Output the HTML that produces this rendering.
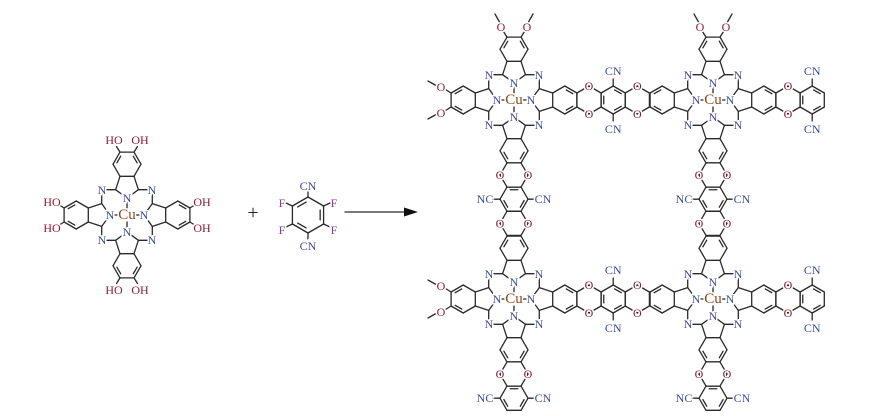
<!DOCTYPE html>
<html><head><meta charset="utf-8">
<style>
html,body{margin:0;padding:0;background:#fff;}
svg{display:block;}
text{font-family:"Liberation Serif",serif;text-anchor:middle;dominant-baseline:central;paint-order:stroke;stroke:#fff;stroke-width:3px;}
</style></head>
<body>
<svg id="s" width="874" height="416" viewBox="0 0 874 416" xmlns="http://www.w3.org/2000/svg">
<rect width="874" height="416" fill="#fff"/>
<g id="b" stroke="#2a2a2a" stroke-width="1.3" fill="none" stroke-linecap="round"></g>
<g id="t"></g>
</svg>
<script>
var B=document.getElementById('b'),T=document.getElementById('t');
var NS='http://www.w3.org/2000/svg';
var CN_='#3b4a9c',CO='#8c1c2e',CCU='#8b4a1c',CF='#8a3a9a';
function L(a,b){var e=document.createElementNS(NS,'line');e.setAttribute('x1',a[0]);e.setAttribute('y1',a[1]);e.setAttribute('x2',b[0]);e.setAttribute('y2',b[1]);B.appendChild(e);}
function X(p,s,c,fs){var e=document.createElementNS(NS,'text');e.setAttribute('x',p[0]);e.setAttribute('y',p[1]);e.setAttribute('fill',c);e.setAttribute('style','font-size:'+(fs||'12px'));e.textContent=s;T.appendChild(e);}
var DIRS={up:[[0,-1],[1,0]],down:[[0,1],[-1,0]],left:[[-1,0],[0,-1]],right:[[1,0],[0,1]]};
function M(cx,cy,d){var u=DIRS[d][0],v=DIRS[d][1];return function(x,y){return [cx+x*v[0]-y*u[0],cy+x*v[1]-y*u[1]];};}
function hexF(m,yc,dbl){
  var h=12.1,p=[[-7,yc+h],[7,yc+h],[14,yc],[7,yc-h],[-7,yc-h],[-14,yc]];
  for(var i=0;i<6;i++){L(m(p[i][0],p[i][1]),m(p[(i+1)%6][0],p[(i+1)%6][1]));}
  if(dbl){dbl.forEach(function(i){var a=p[i],b=p[(i+1)%6],k=0.78;
    var a2=[a[0]*k,yc+(a[1]-yc)*k],b2=[b[0]*k,yc+(b[1]-yc)*k];
    var t=0.15;var A=[a2[0]+(b2[0]-a2[0])*t,a2[1]+(b2[1]-a2[1])*t],Bq=[b2[0]+(a2[0]-b2[0])*t,b2[1]+(a2[1]-b2[1])*t];
    L(m(A[0],A[1]),m(Bq[0],Bq[1]));});}
}
function pc(cx,cy,arms){
  X([cx,cy],'Cu',CCU,'15px');
  [[25,-25],[25,25],[-25,25],[-25,-25]].forEach(function(q){X([cx+q[0],cy+q[1]],'N',CN_);});
  for(var d in arms){
    var m=M(cx,cy,d),ty=arms[d];
    L(m(0,-7),m(0,-14));
    X(m(0,-17),'N',CN_);
    L(m(0,-17),m(11.4,-25.3));L(m(0,-17),m(-11.4,-25.3));
    L(m(11.4,-25.3),m(7,-38.7));L(m(-11.4,-25.3),m(-7,-38.7));
    L(m(11.4,-25.3),m(22,-25.3));L(m(-11.4,-25.3),m(-22,-25.3));
    hexF(m,-50.8,[2,4]);
    if(ty=='OH'||ty=='OMe'){
      [-1,1].forEach(function(s){var a=m(7*s,-62.9),o=m(13*s,-73);L(a,m(10.5*s,-68.5));
        if(ty=='OH'){var dx=o[0]-cx;var lab=dx<0?'HO':'OH';X(m(13*s,-75),lab,CO);}
        else{X(o,'O',CO);L(m(14.5*s,-78),m(19*s,-86));}
      });
    }
    if(ty=='link'||ty=='term'){
      hexF(m,-75);
      X(m(14,-75),'O',CO);X(m(-14,-75),'O',CO);
      hexF(m,-99.2,[0,2,4]);
      [-1,1].forEach(function(s){L(m(14*s,-99.2),m(21*s,-99.2));});
      [m(29,-99.2),m(-29,-99.2)].forEach(function(p){var lab='CN';if(d=='down'||d=='up'){if(p[0]<cx)lab='NC';}X(p,lab,CN_);});
      if(ty=='link'){hexF(m,-123.3);X(m(14,-123.3),'O',CO);X(m(-14,-123.3),'O',CO);}
    }
  }
}
pc(127,215,{up:'OH',down:'OH',left:'OH',right:'OH'});
var x1=514,x2=713,y1=100,y2=299;
pc(x1,y1,{up:'OMe',left:'OMe',right:'link',down:'link'});
pc(x2,y1,{up:'OMe',left:'none',right:'term',down:'link'});
pc(x1,y2,{up:'none',left:'OMe',right:'link',down:'term'});
pc(x2,y2,{up:'none',left:'none',right:'term',down:'term'});
X([253,213],'+','#222','20px');
(function(){var cx=308,cy=215,r=18,p=[];for(var i=0;i<6;i++){var a=(-90+60*i)*Math.PI/180;p.push([cx+r*Math.cos(a),cy+r*Math.sin(a)]);}
 for(var i=0;i<6;i++)L(p[i],p[(i+1)%6]);
 [[1,2],[3,4],[5,0]].forEach(function(e){var a=p[e[0]],b=p[e[1]],k=0.78;var a2=[cx+(a[0]-cx)*k,cy+(a[1]-cy)*k],b2=[cx+(b[0]-cx)*k,cy+(b[1]-cy)*k];var t=0.15;L([a2[0]+(b2[0]-a2[0])*t,a2[1]+(b2[1]-a2[1])*t],[b2[0]+(a2[0]-b2[0])*t,b2[1]+(a2[1]-b2[1])*t]);});
 L(p[0],[cx,cy-24]);L(p[3],[cx,cy+24]);
 X([cx,186],'CN',CN_);X([cx,246],'CN',CN_);
 L(p[1],[cx+22,cy-12]);L(p[2],[cx+22,cy+12]);L(p[5],[cx-22,cy-12]);L(p[4],[cx-22,cy+12]);
 X([282,203],'F',CF);X([334,203],'F',CF);X([282,230],'F',CF);X([334,230],'F',CF);
})();
L([345,212],[408,212]);
var pa=document.createElementNS(NS,'polygon');pa.setAttribute('points','418,212 404,207.5 404,216.5');pa.setAttribute('fill','#111');T.appendChild(pa);
</script>
</body></html>
